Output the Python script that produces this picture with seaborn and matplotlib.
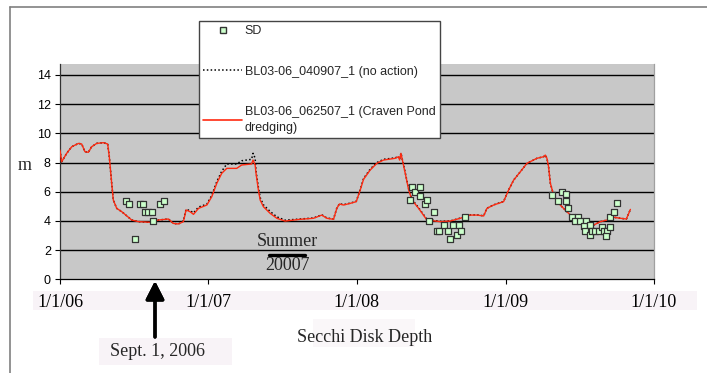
import numpy as np
import pandas as pd
import matplotlib
matplotlib.use("Agg")
import matplotlib.pyplot as plt
import seaborn as sns
from matplotlib.lines import Line2D
from matplotlib.patches import Rectangle

# model output, time in years after 1/1/06
model_t = [0.000, 0.011, 0.045, 0.079, 0.124, 0.146, 0.168, 0.191, 0.213, 0.247,
           0.292, 0.321, 0.332, 0.348, 0.359, 0.382, 0.416, 0.483, 0.528, 0.618,
           0.662, 0.730, 0.763, 0.797, 0.831, 0.849, 0.876, 0.899, 0.933, 0.989,
           1.022, 1.056, 1.089, 1.123, 1.190, 1.223, 1.290, 1.300, 1.314, 1.320,
           1.336, 1.348, 1.370, 1.415, 1.460, 1.516, 1.617, 1.707, 1.763, 1.797,
           1.842, 1.864, 1.882, 1.909, 1.954, 1.995, 2.022, 2.044, 2.089, 2.134,
           2.179, 2.257, 2.280, 2.287, 2.296, 2.303, 2.325, 2.348, 2.370, 2.415,
           2.471, 2.561, 2.628, 2.695, 2.763, 2.808, 2.853, 2.875, 2.920, 2.987,
           3.021, 3.055, 3.100, 3.145, 3.212, 3.257, 3.268, 3.279, 3.290, 3.302,
           3.324, 3.358, 3.391, 3.437, 3.493, 3.549, 3.594, 3.639, 3.684, 3.729,
           3.774, 3.814, 3.830, 3.841]

dredging = [8.85, 8.05, 8.63, 9.08, 9.31, 9.27, 8.74, 8.70, 9.08, 9.31,
            9.36, 9.27, 8.40, 6.58, 5.43, 4.86, 4.63, 4.06, 3.95, 3.90,
            4.06, 4.13, 3.83, 3.79, 3.95, 4.75, 4.63, 4.45, 4.86, 5.09,
            5.66, 6.58, 7.26, 7.60, 7.60, 7.83, 7.90, 8.17, 7.83, 7.26,
            6.12, 5.43, 4.97, 4.52, 4.18, 3.99, 4.11, 4.18, 4.40, 4.18,
            4.11, 4.86, 5.16, 5.09, 5.20, 5.32, 6.12, 6.85, 7.49, 7.95,
            8.17, 8.29, 8.40, 8.17, 8.63, 8.29, 7.26, 6.12, 5.43, 4.86,
            4.06, 3.95, 3.99, 4.18, 4.40, 4.40, 4.34, 4.86, 5.09, 5.32,
            6.12, 6.80, 7.37, 7.95, 8.29, 8.40, 8.51, 8.29, 7.71, 6.58,
            5.77, 5.20, 4.86, 4.40, 4.06, 3.83, 3.72, 3.95, 4.06, 4.25,
            4.18, 4.13, 4.52, 4.79]

no_action = [8.85, 8.05, 8.63, 9.08, 9.31, 9.27, 8.74, 8.70, 9.08, 9.31,
             9.36, 9.27, 8.40, 6.58, 5.43, 4.86, 4.63, 4.06, 3.95, 3.90,
             4.06, 4.13, 3.83, 3.79, 4.00, 4.80, 4.70, 4.55, 4.95, 5.15,
             5.75, 6.70, 7.40, 7.90, 7.90, 8.12, 8.22, 8.63, 8.30, 7.40,
             6.30, 5.60, 5.10, 4.65, 4.28, 4.05, 4.13, 4.20, 4.42, 4.20,
             4.13, 4.88, 5.18, 5.11, 5.22, 5.34, 6.15, 6.90, 7.55, 8.00,
             8.22, 8.32, 8.42, 8.20, 8.65, 8.31, 7.30, 6.18, 5.48, 4.90,
             4.10, 3.97, 4.00, 4.19, 4.41, 4.41, 4.35, 4.87, 5.10, 5.33,
             6.12, 6.80, 7.37, 7.95, 8.29, 8.40, 8.51, 8.29, 7.71, 6.58,
             5.77, 5.20, 4.86, 4.40, 4.06, 3.83, 3.72, 3.95, 4.06, 4.25,
             4.18, 4.13, 4.52, 4.79]

# Secchi disk observations
sd_t = [0.443, 0.465, 0.539, 0.561, 0.573, 0.595, 0.618, 0.629, 0.674, 0.701, 0.505,
        2.370, 2.392, 2.426, 2.421, 2.354, 2.455, 2.471, 2.516, 2.487, 2.538,
        2.554, 2.588, 2.610, 2.646, 2.623, 2.673, 2.684, 2.702, 2.725,
        3.313, 3.380, 3.410, 3.354, 3.410, 3.421, 3.450, 3.491, 3.470, 3.504,
        3.544, 3.526, 3.567, 3.533, 3.567, 3.583, 3.605, 3.627, 3.650, 3.661,
        3.684, 3.702, 3.679, 3.706, 3.733, 3.751]
sd_val = [5.38, 5.16, 5.16, 5.16, 4.59, 4.59, 4.59, 3.99, 5.16, 5.38, 2.74,
          6.30, 6.00, 6.30, 5.71, 5.41, 5.16, 5.43, 4.61, 3.99, 3.33,
          3.33, 3.70, 3.33, 3.70, 2.76, 3.03, 3.70, 3.33, 4.29,
          5.77, 6.00, 5.84, 5.38, 5.38, 4.86, 4.29, 4.29, 3.99, 3.99,
          3.99, 3.65, 3.72, 3.33, 3.03, 3.33, 3.33, 3.33, 3.56, 3.33,
          3.33, 3.56, 2.99, 4.29, 4.63, 5.25]

tick_dates = ["2006-01-01", "2007-01-01", "2008-01-01", "2009-01-01", "2010-01-01"]
tick_labels = ["1/1/06", "1/1/07", "1/1/08", "1/1/09", "1/1/10"]

label_sd = "SD"
label_na = "BL03-06_040907_1 (no action)"
label_dr = "BL03-06_062507_1 (Craven Pond\ndredging)"

start = pd.Timestamp("2006-01-01")
model = pd.DataFrame({
    "date": start + pd.to_timedelta(np.array(model_t) * 365.25, unit="D"),
    "no_action": no_action,
    "dredging": dredging,
})
obs = pd.DataFrame({
    "date": start + pd.to_timedelta(np.array(sd_t) * 365.25, unit="D"),
    "sd": sd_val,
})

sns.set_theme(style="white")
plt.rcParams["font.family"] = ["Liberation Sans", "DejaVu Sans"]

W, H = 707, 373
fig = plt.figure(figsize=(W / 100, H / 100), dpi=100)
fig.patch.set_facecolor("white")

def fx(px):
    return px / W

def fy(py):
    return 1 - py / H

ax = fig.add_axes([fx(60), fy(279.3), fx(654) - fx(60), fy(64) - fy(279.3)])
ax.set_facecolor("#c8c8c8")

red = "#ff2a10"
sns.lineplot(data=model, x="date", y="no_action", ax=ax, color="black",
             linestyle=(0, (1, 1.5)), linewidth=1.1, zorder=3)
sns.lineplot(data=model, x="date", y="dredging", ax=ax, color=red,
             linewidth=1.0, zorder=4)
sns.scatterplot(data=obs, x="date", y="sd", ax=ax, marker="s", s=22,
                facecolor="#ccffcc", edgecolor="#333333", linewidth=0.9, zorder=5)

ax.set_ylim(0, 14.75)
ax.set_yticks(range(0, 15, 2))
ax.set_xlim(pd.Timestamp("2006-01-01"), pd.Timestamp("2010-01-01"))
ax.set_xticks(pd.to_datetime(tick_dates))
ax.set_xticklabels(tick_labels, family=["Liberation Serif"], fontsize=13)
ax.set_xlabel("")
ax.set_ylabel("")
for y in range(2, 15, 2):
    ax.axhline(y, color="black", linewidth=1.0, zorder=1)

ax.tick_params(axis="y", direction="out", length=3.6, width=0.8, pad=3,
               labelsize=9, colors="black", left=True)
ax.tick_params(axis="x", direction="out", length=3.6, width=0.8, pad=7,
               colors="black", bottom=True)
ax.spines["top"].set_visible(False)
ax.spines["left"].set_color("#333333")
ax.spines["bottom"].set_color("black")
ax.spines["right"].set_color("#a0a0a0")
for s in ax.spines.values():
    s.set_linewidth(0.9)

# pale bands behind the date labels and captions
fig.add_artist(Rectangle((fx(33), fy(310)), fx(697) - fx(33), fy(291) - fy(310),
                         transform=fig.transFigure, facecolor="#f8f3f7",
                         edgecolor="none", zorder=-1))
fig.add_artist(Rectangle((fx(313), fy(347)), fx(415) - fx(313), fy(319) - fy(347),
                         transform=fig.transFigure, facecolor="#faf7f9",
                         edgecolor="none", zorder=-1))
fig.add_artist(Rectangle((fx(99), fy(365)), fx(232) - fx(99), fy(338) - fy(365),
                         transform=fig.transFigure, facecolor="#f8f3f7",
                         edgecolor="none", zorder=-1))

serif = ["Liberation Serif", "DejaVu Serif"]
fig.text(fx(25), fy(165), "m", family=serif, fontsize=13, ha="center", va="center")
fig.text(fx(365), fy(337), "Secchi Disk Depth", family=serif, fontsize=13,
         ha="center", va="center")
fig.text(fx(157), fy(351), "Sept. 1, 2006", family=serif, fontsize=13,
         ha="center", va="center")
fig.text(fx(287), fy(242), "Summer", family=serif, fontsize=13,
         ha="center", va="center")
fig.text(fx(287), fy(266), "20007", family=serif, fontsize=13,
         ha="center", va="center")
fig.add_artist(Line2D([fx(269), fx(305)], [fy(255), fy(255)],
                      transform=fig.transFigure, color="black", linewidth=2.4))

fig.add_artist(plt.annotate("", xy=(fx(155), fy(281)), xytext=(fx(155), fy(337)),
                            xycoords="figure fraction", textcoords="figure fraction",
                            arrowprops=dict(arrowstyle="-|>,head_length=0.55,head_width=0.28",
                                            mutation_scale=20, color="black", lw=2.4,
                                            shrinkA=0, shrinkB=0)))

# outer frame
fig.add_artist(Line2D([fx(10), 1], [fy(7), fy(7)], transform=fig.transFigure,
                      color="#808080", linewidth=1.2))
fig.add_artist(Line2D([fx(10), fx(10)], [fy(7), 0], transform=fig.transFigure,
                      color="#808080", linewidth=1.2))

handles = [
    Line2D([], [], marker="s", markersize=4.5, markerfacecolor="#ccffcc",
           markeredgecolor="#333333", linestyle="none"),
    Line2D([], [], color="black", linestyle=(0, (1, 1.5)), linewidth=1.1),
    Line2D([], [], color=red, linewidth=1.2),
]
leg = fig.legend(handles, [label_sd, label_na, label_dr], loc="upper left",
                 bbox_to_anchor=(fx(199), fy(21)), bbox_transform=fig.transFigure,
                 borderaxespad=0, fontsize=9, frameon=True, fancybox=False,
                 edgecolor="#444444", framealpha=1, borderpad=0.35,
                 labelspacing=2.25, handlelength=3.1, handletextpad=0.2)
leg.get_frame().set_linewidth(1.0)
for t in leg.get_texts():
    t.set_linespacing(1.45)

fig.savefig("out.png", dpi=100)
